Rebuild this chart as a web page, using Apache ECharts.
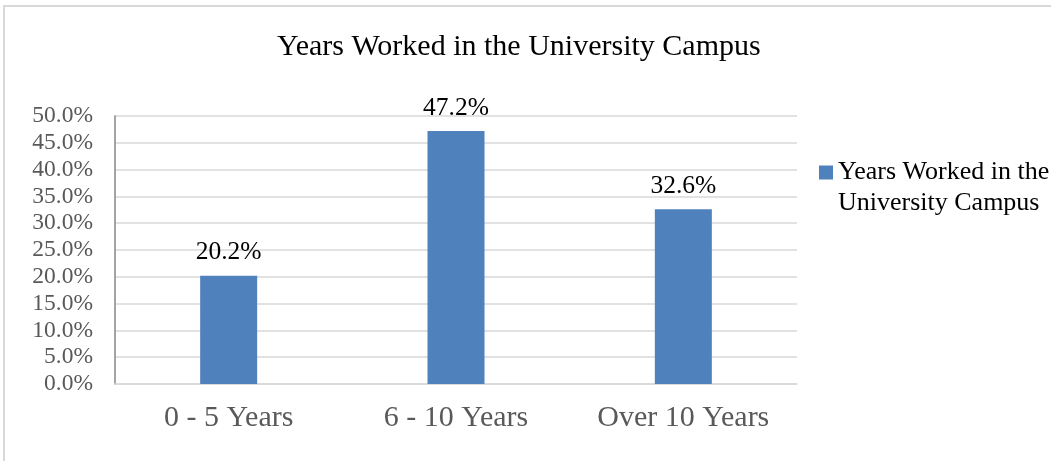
<!DOCTYPE html>
<html>
<head>
<meta charset="utf-8">
<title>Years Worked in the University Campus</title>
<script src="https://cdn.jsdelivr.net/npm/echarts@6/dist/echarts.min.js"></script>
<style>
  html, body { margin: 0; padding: 0; background: #fff; overflow: hidden; }
  #frame { position: absolute; left: 3px; top: 5px; width: 1200px; height: 600px; border: 2px solid #d9d9d9; box-sizing: border-box; }
  #main { position: absolute; left: 0; top: 0; width: 1051px; height: 461px; }
</style>
</head>
<body>
<div id="frame"></div>
<div id="main"></div>
<script>
// data
let categories = ['0 - 5 Years', '6 - 10 Years', 'Over 10 Years'];
let percents = [20.2, 47.2, 32.6];
let seriesName = 'Years Worked in the University Campus';

let serif = "'Liberation Serif', 'Times New Roman', serif";

let chart = echarts.init(document.getElementById('main'));
let option = {
      backgroundColor: 'transparent',
      animation: false,
      title: {
            text: seriesName,
            left: 272,
            top: 27,
            textStyle: {
                  fontFamily: serif,
                  fontSize: 30,
                  fontWeight: 'normal',
                  color: '#000'
            }
      },
      legend: {
            data: [seriesName],
            left: 814,
            top: 121,
            icon: 'rect',
            itemWidth: 14,
            itemHeight: 14,
            // empty first line keeps the square level with the first text line
            formatter: function () {
                  return ' \nYears Worked in the\nUniversity Campus';
            },
            textStyle: {
                  fontFamily: serif,
                  fontSize: 26,
                  color: '#000',
                  lineHeight: 31
            }
      },
      grid: {
            left: 115,
            right: 254,
            top: 116,
            bottom: 77
      },
      xAxis: {
            type: 'category',
            data: categories,
            axisTick: { show: false },
            axisLine: { lineStyle: { color: '#d9d9d9', width: 1.5 } },
            axisLabel: {
                  margin: 19,
                  fontFamily: serif,
                  fontSize: 30,
                  color: '#595959'
            }
      },
      yAxis: {
            type: 'value',
            min: 0,
            max: 50,
            interval: 5,
            axisLine: { show: true, lineStyle: { color: '#868686', width: 1.5 } },
            axisTick: { show: false },
            splitLine: { lineStyle: { color: '#d9d9d9', width: 1.5 } },
            axisLabel: {
                  margin: 22,
                  fontFamily: serif,
                  fontSize: 23.5,
                  color: '#595959',
                  formatter: function (v) {
                        return v.toFixed(1) + '%';
                  }
            }
      },
      series: [{
            name: seriesName,
            type: 'bar',
            data: percents,
            barWidth: 57,
            itemStyle: { color: '#4f81bd' },
            label: {
                  show: true,
                  position: 'top',
                  distance: 10,
                  fontFamily: serif,
                  fontSize: 25.5,
                  color: '#000',
                  formatter: function (p) {
                        return p.value.toFixed(1) + '%';
                  }
            }
      }]
};
chart.setOption(option);
</script>
</body>
</html>
